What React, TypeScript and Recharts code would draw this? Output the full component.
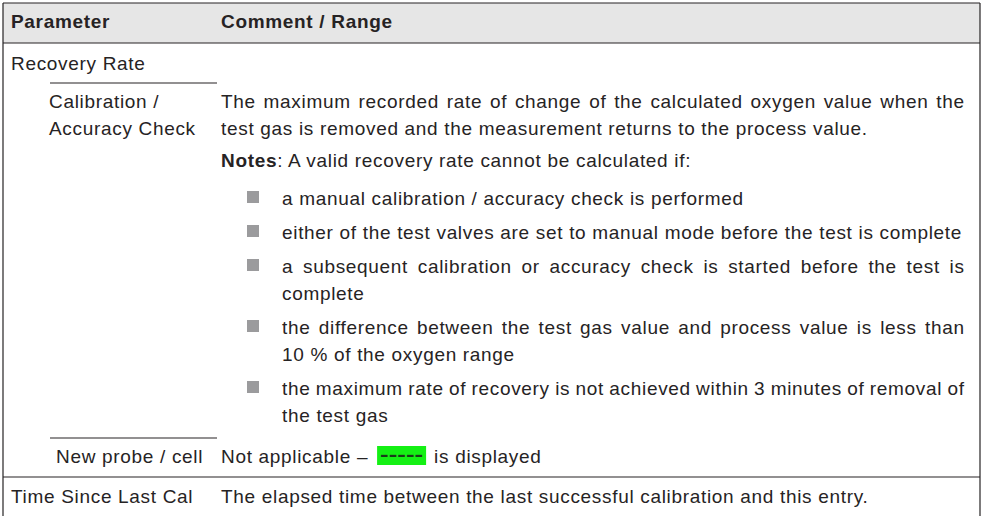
import React from 'react'
import { Surface, Layer, Rectangle } from 'recharts'

const headers = ['Parameter', 'Comment / Range']
const paramLabels = ['Recovery Rate', 'Calibration /', 'Accuracy Check', 'New probe / cell', 'Time Since Last Cal']
const calDescription = [
  'The maximum recorded rate of change of the calculated oxygen value when the',
  'test gas is removed and the measurement returns to the process value.',
]
const notesLabel = 'Notes'
const notesText = ': A valid recovery rate cannot be calculated if:'
const bulletLines = [
  ['a manual calibration / accuracy check is performed'],
  ['either of the test valves are set to manual mode before the test is complete'],
  ['a subsequent calibration or accuracy check is started before the test is', 'complete'],
  ['the difference between the test gas value and process value is less than', '10 % of the oxygen range'],
  ['the maximum rate of recovery is not achieved within 3 minutes of removal of', 'the test gas'],
]
const newProbeText = ['Not applicable – ', '-----', 'is displayed']
const timeSinceText = 'The elapsed time between the last successful calibration and this entry.'

const W = 985
const H = 516
const LEFT = 3
const RIGHT = 980
const TOP = 3
const HEAD_BOTTOM = 43
const COL1 = 11
const SUB = 49
const COL2 = 221
const BOX_X = 247
const BULLET_X = 282
const TEXT_RIGHT = 964
const LINE = 27
const BULLET_STEP = 34

const FAMILY = "'Liberation Sans', Arial, sans-serif"
const FS = 19
const LS = 0.68
const INK = '#262324'

let ctx: CanvasRenderingContext2D | null = null
function measure(text: string, bold = false) {
  if (!ctx) ctx = document.createElement('canvas').getContext('2d')
  if (!ctx) return text.length * FS * 0.5
  ctx.font = `${bold ? 'bold ' : ''}${FS}px 'Liberation Sans'`
  return ctx.measureText(text).width + text.length * LS
}

function Line({ x, y, text, justify, bold }: { x: number; y: number; text: string; justify?: boolean; bold?: boolean }) {
  let ws = 0
  if (justify) {
    const spaces = text.split(' ').length - 1
    ws = (TEXT_RIGHT + LS - x - measure(text, bold)) / spaces
  }
  return (
    <text
      x={x}
      y={y}
      fill={INK}
      fontFamily={FAMILY}
      fontSize={FS}
      fontWeight={bold ? 'bold' : 'normal'}
      letterSpacing={LS}
      style={{ wordSpacing: ws }}
    >
      {text}
    </text>
  )
}

function Rule({ x1, x2, y }: { x1: number; x2: number; y: number }) {
  return <line x1={x1} x2={x2} y1={y} y2={y} stroke={INK} strokeWidth={1.2} />
}

export default function App() {
  // bullet rows laid out top to bottom
  const bulletStart = 205
  const bulletRows: { y: number; text: string; first: boolean; justify: boolean }[] = []
  let y = bulletStart
  bulletLines.forEach((lines, i) => {
    if (i > 0) y += BULLET_STEP
    lines.forEach((t, j) => {
      if (j > 0) y += LINE
      bulletRows.push({ y, text: t, first: j === 0, justify: j < lines.length - 1 })
    })
  })

  const greenX = COL2 + measure(newProbeText[0]) + 3
  const greenW = 49
  const afterX = greenX + greenW + 8

  return (
    <div style={{ position: 'absolute', left: 0, top: 0, width: W, height: H, background: '#fff' }}>
      <Surface width={W} height={H} viewBox={{ x: 0, y: 0, width: W, height: H }}>
        <Layer>
          <Rectangle x={LEFT} y={TOP} width={RIGHT - LEFT} height={HEAD_BOTTOM - TOP} fill="#e6e6e6" />
          <Rule x1={LEFT} x2={RIGHT} y={TOP} />
          <Rule x1={LEFT} x2={RIGHT} y={HEAD_BOTTOM} />
          <line x1={LEFT} x2={LEFT} y1={TOP} y2={H} stroke={INK} strokeWidth={1.2} />
          <line x1={RIGHT} x2={RIGHT} y1={TOP} y2={H} stroke={INK} strokeWidth={1.2} />
          <Rule x1={SUB + 1} x2={217} y={83} />
          <Rule x1={SUB + 1} x2={217} y={438} />
          <Rule x1={LEFT} x2={RIGHT} y={477} />
        </Layer>

        <Layer>
          <Line x={COL1} y={28} text={headers[0]} bold />
          <Line x={COL2} y={28} text={headers[1]} bold />

          <Line x={COL1} y={70} text={paramLabels[0]} />
          <Line x={SUB} y={108} text={paramLabels[1]} />
          <Line x={SUB} y={135} text={paramLabels[2]} />
          <Line x={56} y={463} text={paramLabels[3]} />
          <Line x={COL1} y={503} text={paramLabels[4]} />

          <Line x={COL2} y={108} text={calDescription[0]} justify />
          <Line x={COL2} y={135} text={calDescription[1]} />

          <text x={COL2} y={167} fill={INK} fontFamily={FAMILY} fontSize={FS} letterSpacing={LS}>
            <tspan fontWeight="bold">{notesLabel}</tspan>
            <tspan>{notesText}</tspan>
          </text>

          {bulletRows.map((r, i) => (
            <g key={i}>
              {r.first && <Rectangle x={BOX_X} y={r.y - 14} width={12} height={12} fill="#9b9b9d" />}
              <Line x={BULLET_X} y={r.y} text={r.text} justify={r.justify} />
            </g>
          ))}

          <Line x={COL2} y={463} text={newProbeText[0]} />
          <Rectangle x={greenX} y={446} width={greenW} height={19} fill="#14f014" />
          <text
            x={greenX + greenW / 2}
            y={461}
            textAnchor="middle"
            fill="#1a3a1a"
            fontFamily={FAMILY}
            fontSize={FS}
            fontWeight="bold"
            textLength={greenW - 6}
            lengthAdjust="spacingAndGlyphs"
          >
            {newProbeText[1]}
          </text>
          <Line x={afterX} y={463} text={newProbeText[2]} />

          <Line x={COL2} y={503} text={timeSinceText} />
        </Layer>
      </Surface>
    </div>
  )
}
